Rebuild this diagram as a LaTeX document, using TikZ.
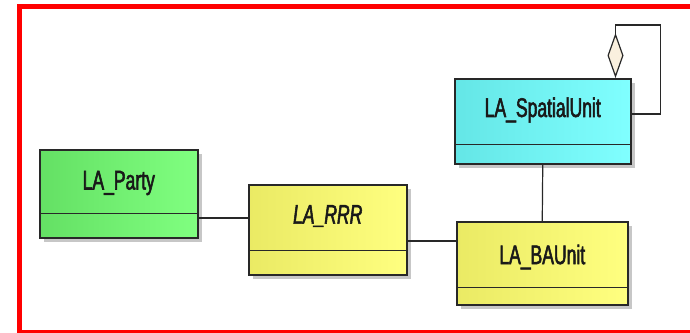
\documentclass[tikz,border=0pt]{standalone}
\usepackage{fontspec}
\newfontfamily\umlfont{Liberation Sans}[FakeStretch=0.65, FakeBold=2]
\usetikzlibrary{shadows,arrows.meta}

\definecolor{partyleft}{RGB}{100,224,100}
\definecolor{partyright}{RGB}{128,255,128}
\definecolor{rrrleft}{RGB}{234,234,100}
\definecolor{rrrright}{RGB}{255,255,128}
\definecolor{spatialleft}{RGB}{100,230,230}
\definecolor{spatialright}{RGB}{128,255,255}
\definecolor{aggfill}{RGB}{250,240,222}
\definecolor{umlline}{RGB}{40,40,40}

\begin{document}
\begin{tikzpicture}[x=1pt, y=-1pt,
            frame/.style={draw=red, line width=4.5pt},
            classbox/.style={draw=umlline, line width=1.5pt, anchor=north west,
                drop shadow={shadow xshift=4pt, shadow yshift=-4pt, fill=black!22, opacity=1}},
            divider/.style={draw=umlline, line width=1.5pt},
            classname/.style={font=\umlfont\fontsize{27}{30}\selectfont, text=black!90, inner sep=0pt},
            assoc/.style={draw=umlline, line width=1.2pt}
        ]
            \clip (0, 0) rectangle (690, 332);
            % frame
            \draw[frame] (19.5, 340) -- (19.5, 6.5) -- (700, 6.5);
            \draw[frame] (19.5, 332) -- (700, 332);
            % classes
            \node[classbox, left color=partyleft, right color=partyright,
                minimum width=158pt, minimum height=88pt] (party) at (39, 149) {};
            \node[classbox, left color=rrrleft, right color=rrrright,
                minimum width=158pt, minimum height=90pt] (rrr) at (248, 184) {};
            \node[classbox, left color=rrrleft, right color=rrrright,
                minimum width=171pt, minimum height=83pt] (baunit) at (456, 221) {};
            \node[classbox, left color=spatialleft, right color=spatialright,
                minimum width=176pt, minimum height=85pt] (spatial) at (454, 78) {};
            % compartments
            \draw[divider] ([yshift=25pt]party.south west) -- ([yshift=25pt]party.south east);
            \draw[divider] ([yshift=25pt]rrr.south west) -- ([yshift=25pt]rrr.south east);
            \draw[divider] ([yshift=18pt]baunit.south west) -- ([yshift=18pt]baunit.south east);
            \draw[divider] ([yshift=20pt]spatial.south west) -- ([yshift=20pt]spatial.south east);
            % names
            \node[classname] (partyname) at ([yshift=-34pt]party.north) {LA\_Party};
            \node[classname] (rrrname) at ([yshift=-32pt]rrr.north) {\itshape LA\_RRR};
            \node[classname] (baunitname) at ([yshift=-36pt]baunit.north) {LA\_BAUnit};
            \node[classname] (spatialname) at ([yshift=-32pt]spatial.north) {LA\_SpatialUnit};
            % associations
            \draw[assoc] ([yshift=-69pt]party.north east) coordinate (partyend) -- (partyend -| rrr.west);
            \draw[assoc] ([yshift=-57pt]rrr.north east) coordinate (rrrend) -- (rrrend -| baunit.west);
            \draw[assoc] (spatial.south) -- (baunit.north);
            % aggregation
            \draw[assoc, {Diamond[fill=aggfill, length=45pt, width=16pt]}-]
                ([xshift=-16pt]spatial.north east) -- ++(0, -53)
                -| ([xshift=29pt, yshift=-36pt]spatial.north east) coordinate (loopend)
                -- ([yshift=-36pt]spatial.north east);
        \end{tikzpicture}
\end{document}
